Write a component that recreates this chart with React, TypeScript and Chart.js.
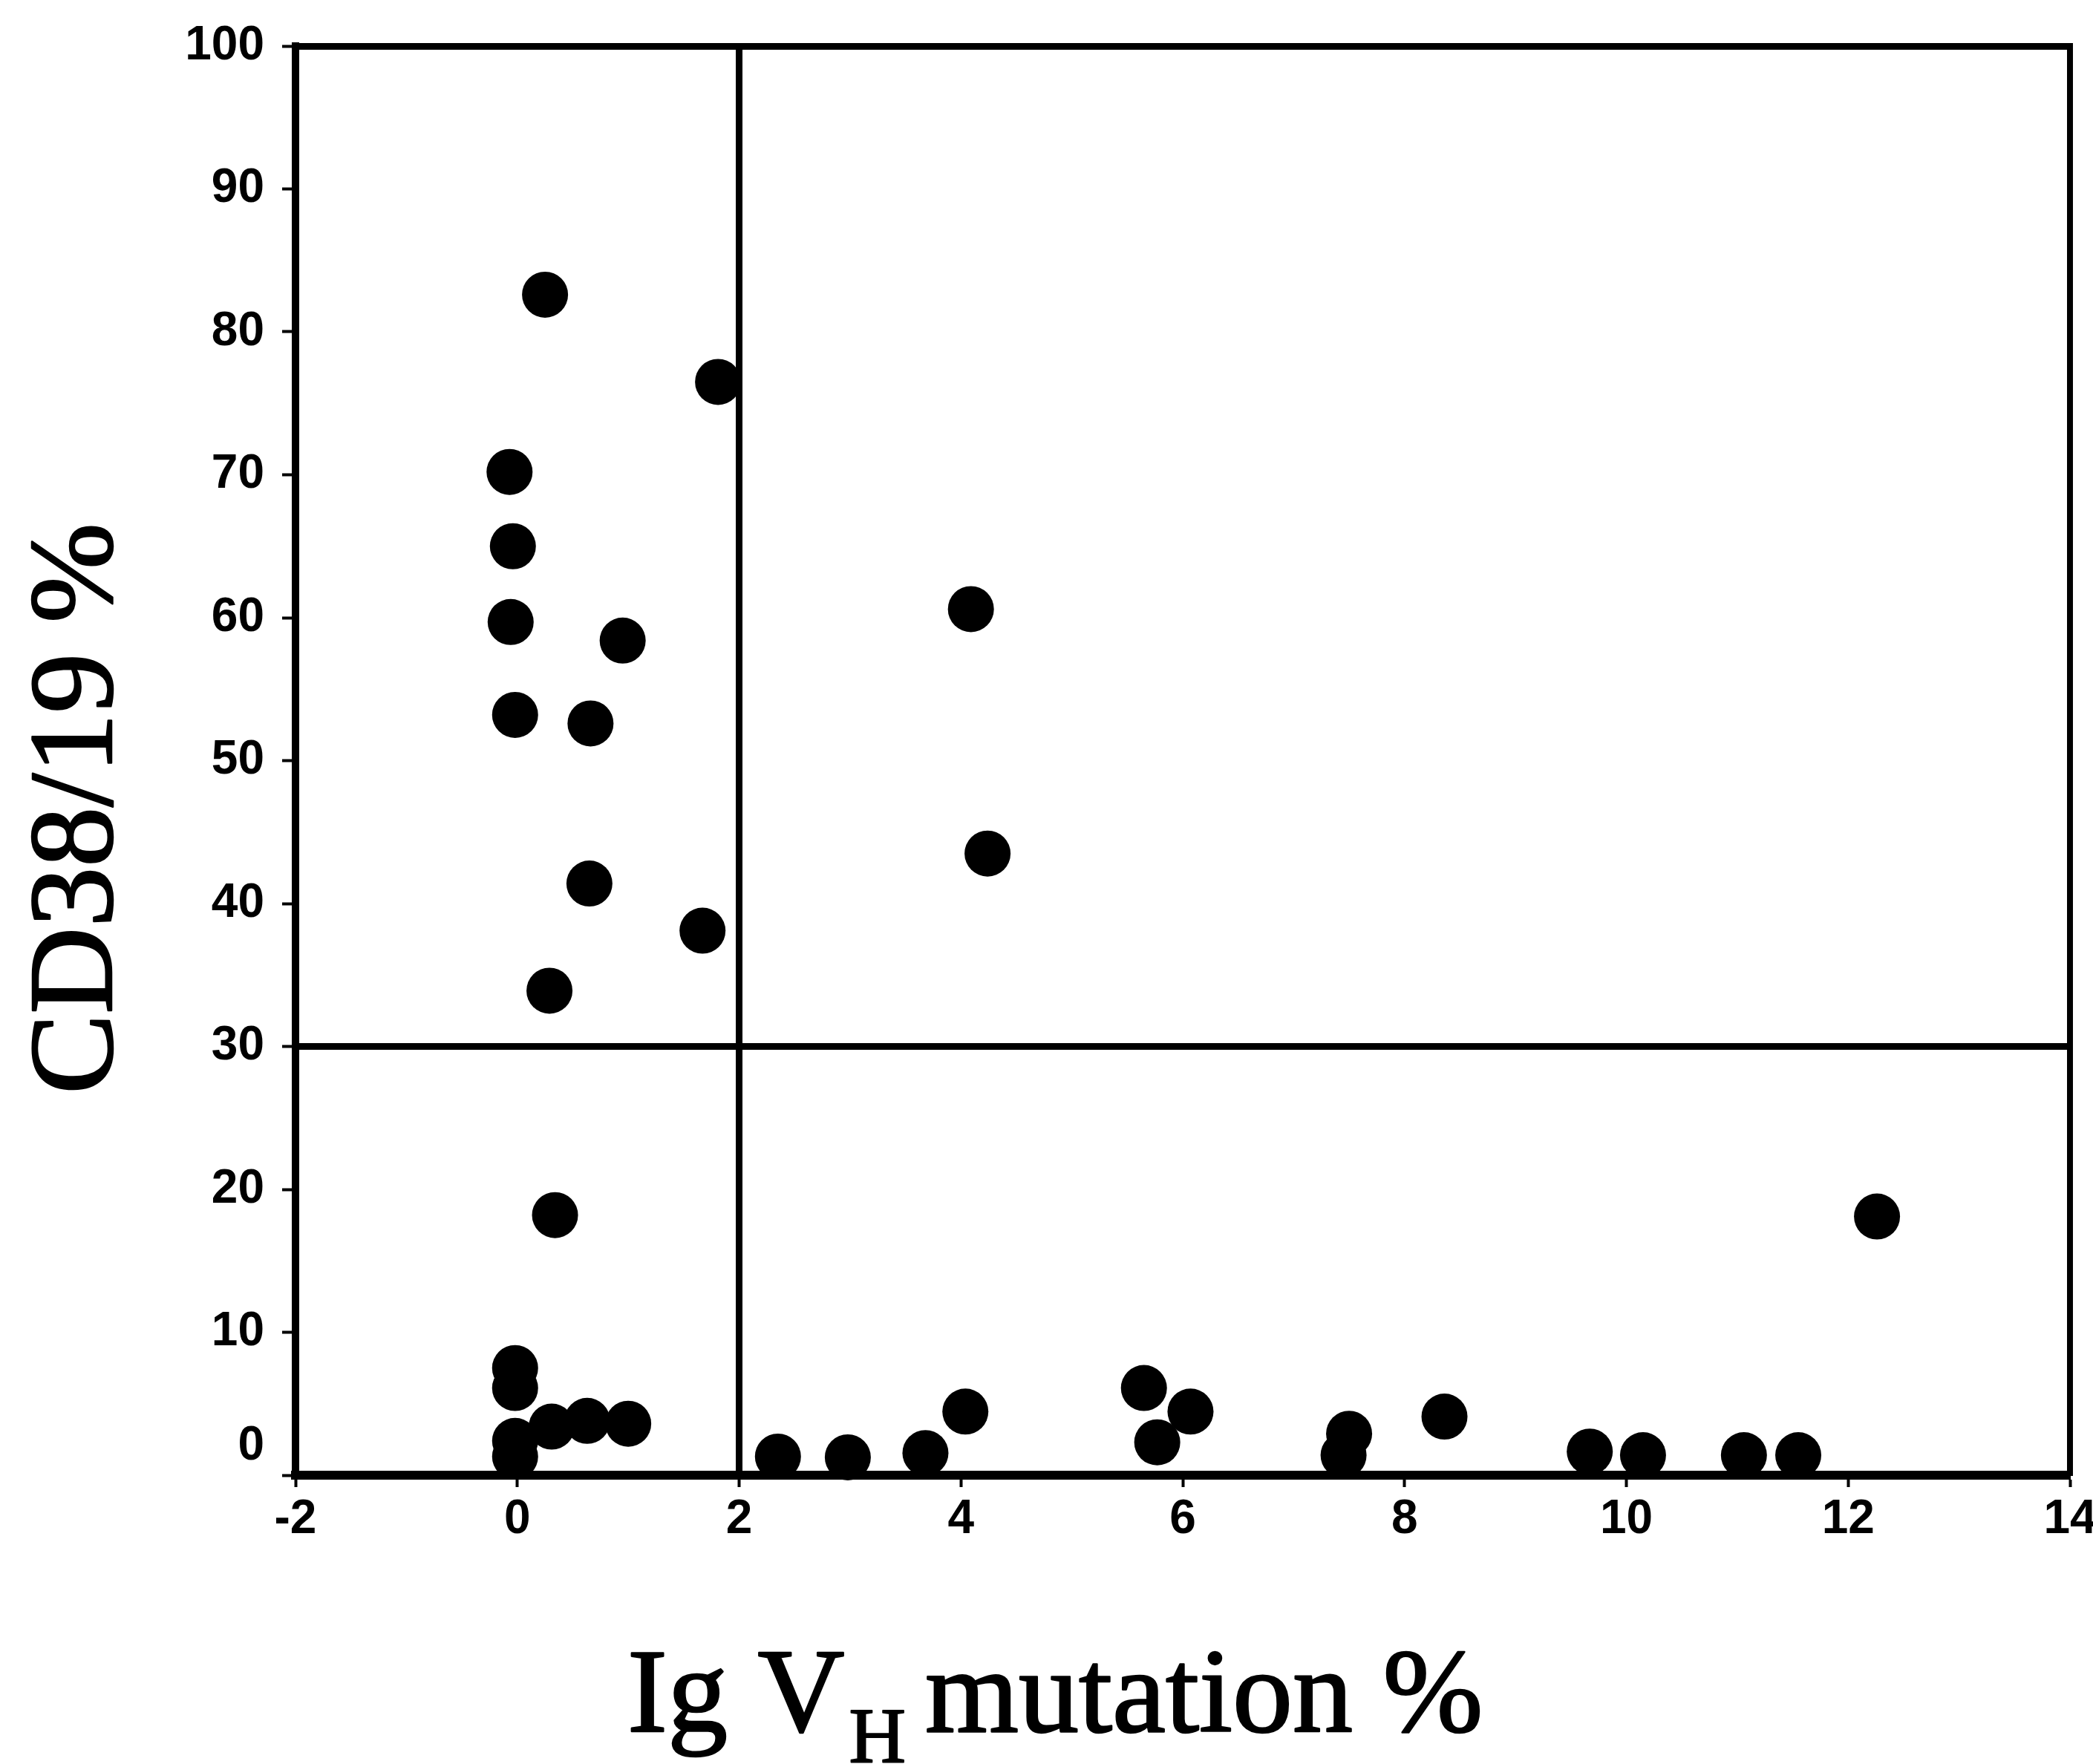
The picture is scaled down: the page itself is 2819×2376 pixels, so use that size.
import React, { useEffect, useRef } from "react";
import { Chart, registerables } from "chart.js";

Chart.register(...registerables);

// ---- data ----
const mutationPct = [
  0.25, 1.81, -0.07, -0.04, -0.06, 0.95, -0.02, 0.66, 0.65, 1.67, 0.29,
  4.09, 4.24, 0.34, 12.26,
  -0.02, -0.02, -0.02, -0.02, 0.31, 0.63, 1.0,
  2.35, 2.98, 3.68, 4.04, 5.65, 6.07, 5.77, 7.5, 7.45, 8.36,
  9.67, 10.15, 11.06, 11.55,
];
const cd38Pct = [
  82.6, 76.5, 70.2, 65.0, 59.7, 58.4, 53.2, 52.6, 41.4, 38.1, 33.9,
  60.6, 43.5, 18.2, 18.1,
  7.5, 6.1, 2.4, 1.3, 3.4, 3.8, 3.6,
  1.3, 1.25, 1.55, 4.45, 6.1, 4.45, 2.3, 2.9, 1.4, 4.1,
  1.65, 1.4, 1.4, 1.4,
];
const xRange = [-2, 14];
const xStep = 2;
const yRange = [0, 100];
const yStep = 10;
const mutationCutoff = [2];
const cd38Cutoff = [30];
const yTitle = "CD38/19 %";
const xTitleMain = "Ig V";
const xTitleSub = "H";
const xTitleRest = "mutation %";

const tickFont = {
  family: '"Liberation Sans Narrow", "Arial Narrow", "Liberation Sans", Arial, sans-serif',
  size: 64,
  weight: "bold" as const,
};
const SERIF = '"Liberation Serif", "Times New Roman", serif';

function heavyText(ctx: CanvasRenderingContext2D, s: string, x: number, y: number, w: number) {
  ctx.lineWidth = w;
  ctx.lineJoin = "round";
  ctx.strokeStyle = "#000";
  ctx.strokeText(s, x, y);
  ctx.fillText(s, x, y);
}

const titlePlugin = {
  id: "customTitles",
  afterDraw(chart: any) {
    const ctx = chart.ctx as CanvasRenderingContext2D;
    ctx.save();
    ctx.fillStyle = "#000";
    ctx.textBaseline = "alphabetic";
    ctx.font = `normal 162px ${SERIF}`;
    ctx.translate(150, 1089);
    ctx.rotate(-Math.PI / 2);
    ctx.textAlign = "center";
    heavyText(ctx, yTitle, 0, 0, 2.5);
    ctx.restore();

    ctx.save();
    ctx.fillStyle = "#000";
    ctx.textBaseline = "alphabetic";
    ctx.textAlign = "left";
    let x = 845;
    const base = 2332;
    ctx.font = `normal 162px ${SERIF}`;
    heavyText(ctx, xTitleMain, x, base, 2.5);
    x += ctx.measureText(xTitleMain).width + 6;
    ctx.font = `normal 106px ${SERIF}`;
    heavyText(ctx, xTitleSub, x, base + 41, 2);
    x += ctx.measureText(xTitleSub).width + 26;
    ctx.font = `normal 162px ${SERIF}`;
    heavyText(ctx, xTitleRest, x, base, 2.5);
    ctx.restore();
  },
};

export default function App() {
  const ref = useRef<HTMLCanvasElement | null>(null);

  useEffect(() => {
    if (!ref.current) return;
    const points = mutationPct.map((x, i) => ({ x, y: cd38Pct[i] }));
    const vLine = [
      { x: mutationCutoff[0], y: yRange[0] },
      { x: mutationCutoff[0], y: yRange[1] },
    ];
    const hLine = [
      { x: xRange[0], y: cd38Cutoff[0] },
      { x: xRange[1], y: cd38Cutoff[0] },
    ];
    const chart = new Chart(ref.current, {
      type: "scatter",
      data: {
        datasets: [
          {
            data: vLine,
            showLine: true,
            borderColor: "#000",
            borderWidth: 9,
            pointRadius: 0,
            clip: false,
          } as any,
          {
            data: hLine,
            showLine: true,
            borderColor: "#000",
            borderWidth: 9,
            pointRadius: 0,
            clip: false,
          } as any,
          {
            data: points,
            backgroundColor: "#000",
            borderColor: "#000",
            borderWidth: 0,
            pointRadius: 31,
            pointHoverRadius: 31,
            clip: false,
          } as any,
        ],
      },
      options: {
        responsive: false,
        animation: false,
        devicePixelRatio: 1,
        layout: { padding: { top: 62, right: 21, left: 0, bottom: 0 } },
        plugins: {
          legend: { display: false },
          tooltip: { enabled: false },
        },
        scales: {
          x: {
            type: "linear",
            position: "bottom",
            min: xRange[0],
            max: xRange[1],
            ticks: {
              stepSize: xStep,
              color: "#000",
              font: tickFont,
              padding: 6,
              maxRotation: 0,
              autoSkip: false,
            },
            grid: {
              display: true,
              drawOnChartArea: false,
              drawTicks: true,
              tickLength: 16,
              tickWidth: 4,
              tickColor: "#000",
              color: "#000",
            },
            border: { display: true, color: "#000", width: 12 },
            afterFit: (s: any) => {
              s.height = 389;
              s.paddingLeft = 0;
              s.paddingRight = 0;
            },
          },
          y: {
            type: "linear",
            position: "left",
            min: yRange[0],
            max: yRange[1],
            ticks: {
              stepSize: yStep,
              color: "#000",
              font: tickFont,
              padding: 24,
              callback: (v: any) => (Number(v) === 0 ? ["0", ""] : String(v)),
            },
            grid: {
              display: true,
              drawOnChartArea: false,
              drawTicks: true,
              tickLength: 18,
              tickWidth: 4,
              tickColor: "#000",
              color: "#000",
            },
            border: { display: true, color: "#000", width: 10 },
            afterFit: (s: any) => {
              s.width = 398;
              s.paddingTop = 0;
              s.paddingBottom = 0;
            },
          },
          xTop: {
            type: "linear",
            position: "top",
            min: xRange[0],
            max: xRange[1],
            ticks: { display: false },
            grid: { display: false, drawTicks: false },
            border: { display: true, color: "#000", width: 9 },
            afterFit: (s: any) => {
              s.height = 0;
              s.paddingLeft = 0;
              s.paddingRight = 0;
            },
          },
          yRight: {
            type: "linear",
            position: "right",
            min: yRange[0],
            max: yRange[1],
            ticks: { display: false },
            grid: { display: false, drawTicks: false },
            border: { display: true, color: "#000", width: 8 },
            afterFit: (s: any) => {
              s.width = 0;
              s.paddingTop = 0;
              s.paddingBottom = 0;
            },
          },
        },
      } as any,
      plugins: [titlePlugin],
    });
    return () => chart.destroy();
  }, []);

  return (
    <div style={{ position: "absolute", left: 0, top: 0, width: 2819, height: 2376, background: "#fff" }}>
      <canvas ref={ref} width={2819} height={2376} style={{ display: "block" }} />
    </div>
  );
}
